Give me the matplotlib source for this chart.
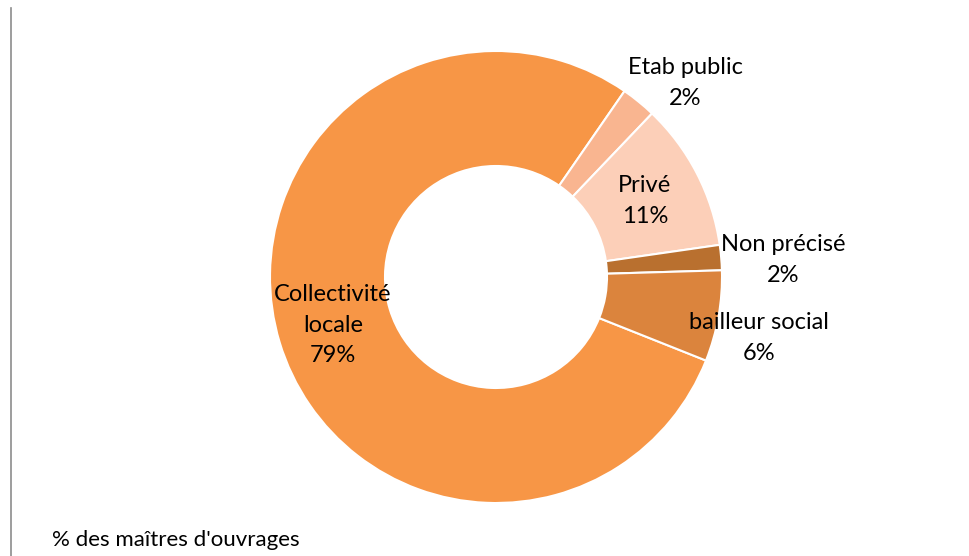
import matplotlib.pyplot as plt

# donut data, clockwise order
labels = ['Collectivité\nlocale', 'Etab public', 'Privé', 'Non précisé', 'bailleur social']
values = [78.6, 2.5, 10.6, 1.8, 6.5]
pct_txt = ['79%', '2%', '11%', '2%', '6%']
colors = ['#F79646', '#F9B590', '#FCCFB8', '#B9702F', '#DB843D']

plt.rcParams['font.family'] = ['Lato', 'DejaVu Sans']

W, H = 969, 556
fig = plt.figure(figsize=(W / 100, H / 100), dpi=100)
ax = fig.add_axes([0, 0, 1, 1])

cx, cy, r = 496, H - 277, 226
wedges, _ = ax.pie(values, colors=colors, startangle=-21.7, counterclock=False,
                   center=(cx, cy), radius=r,
                   wedgeprops=dict(width=115, edgecolor='white', linewidth=1.5))
ax.set_xlim(0, W)
ax.set_ylim(0, H)
ax.set_aspect('equal')
ax.axis('off')

# label positions (pixels from top-left)
pos = [(333, 325), (685, 83), (645, 201), (783, 260), (759, 338)]
for lab, p, (x, y) in zip(labels, pct_txt, pos):
    ax.text(x, H - y, lab + '\n' + p, ha='center', va='center', fontsize=17,
            linespacing=1.55, color='black')

ax.text(52, H - 540, "% des maîtres d'ouvrages", ha='left', va='center', fontsize=16)

# left border line
ax.plot([11, 11], [0, H - 8], color='#8c8c8c', linewidth=1.2)

fig.savefig('out.png', dpi=100)
